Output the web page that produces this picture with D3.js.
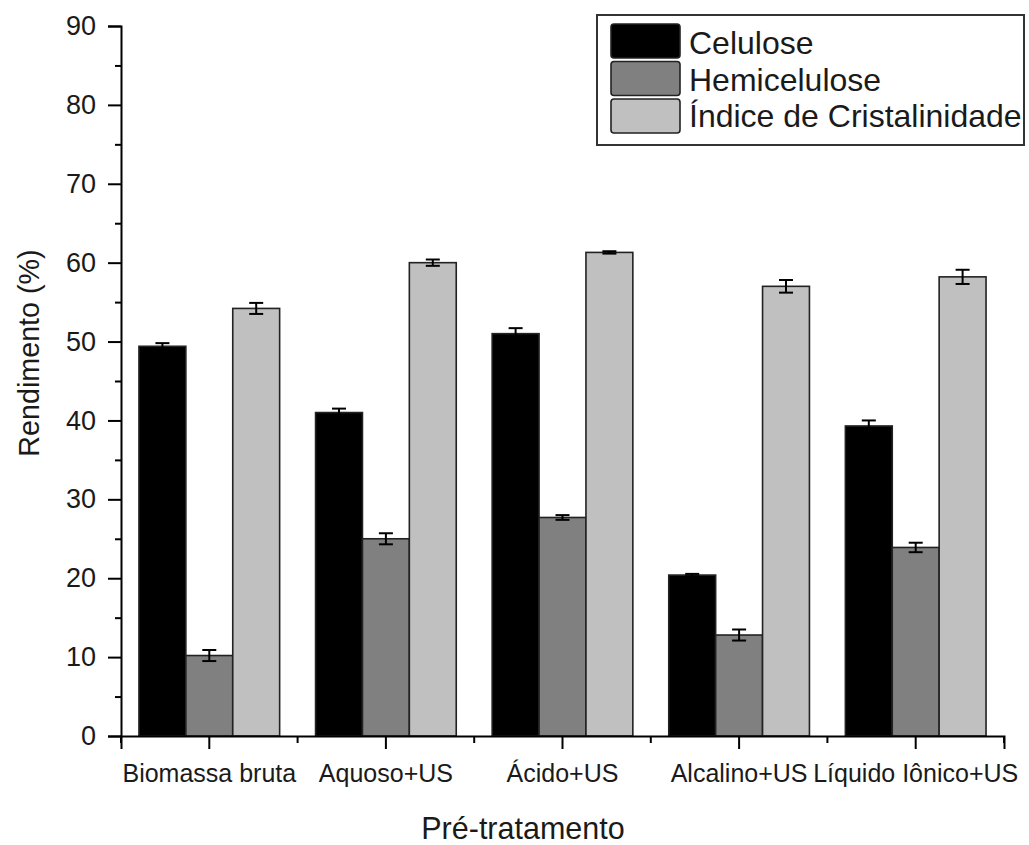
<!DOCTYPE html>
<html>
<head>
<meta charset="utf-8">
<script src="https://cdn.jsdelivr.net/npm/d3@7"></script>
<style>
  html, body { margin: 0; padding: 0; background: #fff; }
  svg text { font-family: Arial, "Liberation Sans", sans-serif; fill: #1a1a1a; }
</style>
</head>
<body>
<svg id="chart" width="1029" height="845"></svg>
<script>
const categories = ["Biomassa bruta", "Aquoso+US", "Ácido+US", "Alcalino+US", "Líquido Iônico+US"];
const seriesNames = ["Celulose", "Hemicelulose", "Índice de Cristalinidade"];
const seriesColors = ["#000000", "#808080", "#c0c0c0"];
const celulose = [49.4, 41.0, 51.0, 20.4, 39.3];
const celuloseErr = [0.4, 0.5, 0.7, 0.15, 0.7];
const hemicelulose = [10.2, 25.0, 27.7, 12.8, 23.9];
const hemiceluloseErr = [0.7, 0.7, 0.3, 0.7, 0.6];
const cristalinidade = [54.2, 60.0, 61.3, 57.0, 58.2];
const cristalinidadeErr = [0.7, 0.4, 0.15, 0.8, 0.9];
const yTicks = [0, 10, 20, 30, 40, 50, 60, 70, 80, 90];
const yMinorTicks = [5, 15, 25, 35, 45, 55, 65, 75, 85];

const values = [celulose, hemicelulose, cristalinidade];
const errors = [celuloseErr, hemiceluloseErr, cristalinidadeErr];

const svg = d3.select("#chart");
const mLeft = 121, mRight = 1004, mTop = 26, mBottom = 736;

const x0 = d3.scaleBand().domain(categories).range([mLeft, mRight]).padding(0);
const x1 = d3.scaleBand().domain(seriesNames).range([0, x0.bandwidth()]).paddingInner(0).paddingOuter(0.383);
const y = d3.scaleLinear().domain([0, 90]).range([mBottom, mTop]);

// bars
const data = [];
categories.forEach((c, i) => {
  seriesNames.forEach((s, j) => {
    data.push({cat: c, s: s, j: j, v: values[j][i], e: errors[j][i]});
  });
});

svg.append("g").selectAll("rect").data(data).join("rect")
  .attr("x", d => x0(d.cat) + x1(d.s))
  .attr("y", d => y(d.v))
  .attr("width", x1.bandwidth())
  .attr("height", d => y(0) - y(d.v))
  .attr("fill", d => seriesColors[d.j])
  .attr("stroke", "#222")
  .attr("stroke-width", 1.6);

// error bars
const eg = svg.append("g").attr("stroke", "#000").attr("stroke-width", 2);
data.forEach(d => {
  const cx = x0(d.cat) + x1(d.s) + x1.bandwidth() / 2;
  eg.append("line").attr("x1", cx).attr("x2", cx).attr("y1", y(d.v + d.e)).attr("y2", y(d.v - d.e));
  eg.append("line").attr("x1", cx - 7).attr("x2", cx + 7).attr("y1", y(d.v + d.e)).attr("y2", y(d.v + d.e));
  eg.append("line").attr("x1", cx - 7).attr("x2", cx + 7).attr("y1", y(d.v - d.e)).attr("y2", y(d.v - d.e));
});

// y axis
const yAxis = svg.append("g").attr("transform", `translate(${mLeft},0)`)
  .call(d3.axisLeft(y).tickValues(yTicks).tickSize(13).tickPadding(12).tickFormat(d3.format("d")));
yAxis.selectAll("text").style("font-size", "27px");
svg.append("g").attr("transform", `translate(${mLeft},0)`)
  .call(d3.axisLeft(y).tickValues(yMinorTicks).tickSize(6).tickFormat(""))
  .select(".domain").remove();

// x axis
const xAxis = svg.append("g").attr("transform", `translate(0,${mBottom})`)
  .call(d3.axisBottom(x0).tickSize(13).tickPadding(15));
xAxis.selectAll("text").style("font-size", "25px");
const boundaries = categories.map(c => x0(c)).concat([x0(categories[categories.length - 1]) + x0.bandwidth()]);
const xMinor = svg.append("g").attr("transform", `translate(0,${mBottom})`);
xMinor.selectAll("line").data(boundaries).join("line")
  .attr("x1", d => d).attr("x2", d => d).attr("y1", 0).attr("y2", 7)
  .attr("stroke", "#000").attr("stroke-width", 2);

svg.selectAll(".domain").attr("stroke", "#000").attr("stroke-width", 2);
svg.selectAll(".tick line").attr("stroke", "#000").attr("stroke-width", 2);
svg.selectAll(".tick text").attr("fill", "#1a1a1a").style("font-family", "Arial, 'Liberation Sans', sans-serif");

// axis titles
svg.append("text").attr("x", 523).attr("y", 839).attr("text-anchor", "middle")
  .style("font-size", "30.5px").text("Pré-tratamento");
svg.append("text").attr("transform", "translate(39,353) rotate(-90)").attr("text-anchor", "middle")
  .style("font-size", "28.7px").text("Rendimento (%)");

// legend
const lg = svg.append("g");
lg.append("rect").attr("x", 597).attr("y", 15).attr("width", 427).attr("height", 130)
  .attr("fill", "#fff").attr("stroke", "#333").attr("stroke-width", 2);
seriesNames.forEach((s, i) => {
  lg.append("rect").attr("x", 611).attr("y", 24 + i * 37.5).attr("width", 69).attr("height", 34)
    .attr("rx", 3).attr("fill", seriesColors[i]).attr("stroke", "#222").attr("stroke-width", 1.6);
  lg.append("text").attr("x", 689).attr("y", 54 + i * 36.5).style("font-size", "32px").text(s);
});
</script>
</body>
</html>
